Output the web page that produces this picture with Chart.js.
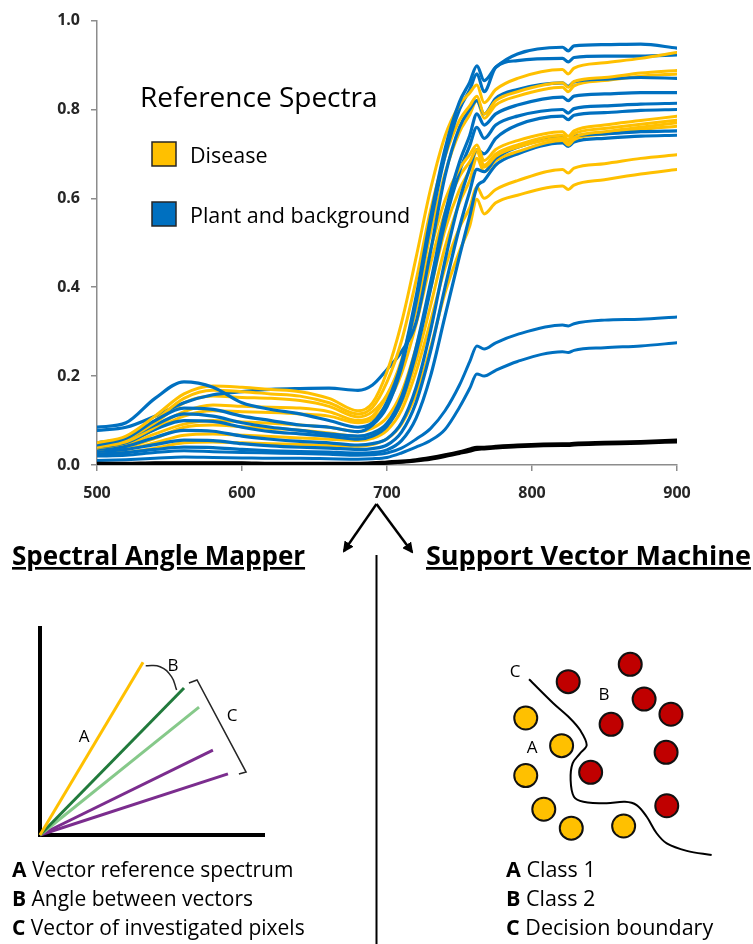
<!DOCTYPE html>
<html>
<head>
<meta charset="utf-8">
<script src="https://cdn.jsdelivr.net/npm/chart.js@4.4.0/dist/chart.umd.min.js"></script>
<style>
  html, body { margin:0; padding:0; background:#fff; }
  #page { position:relative; width:753px; height:944px; overflow:hidden; background:#fff; }
  canvas { position:absolute; }
  #overlay { position:absolute; left:0; top:0; pointer-events:none; }
</style>
</head>
<body>
<div id="page">
  <canvas id="spectra" width="753" height="500" style="left:0;top:0;width:753px;height:500px"></canvas>
  <canvas id="sam" width="380" height="260" style="left:0;top:600px;width:380px;height:260px"></canvas>
  <canvas id="svm" width="373" height="290" style="left:380px;top:600px;width:373px;height:290px"></canvas>
  <svg id="overlay" width="753" height="944" xmlns="http://www.w3.org/2000/svg">
    <defs>
      <marker id="ah" markerWidth="11" markerHeight="11" refX="9" refY="5.5" orient="auto" markerUnits="userSpaceOnUse">
        <path d="M0,0 L11,5.5 L0,11 z" fill="#000"/>
      </marker>
    </defs>
    <!-- legend of the spectra chart -->
    <text x="140" y="107" font-family="Open Sans" font-size="28" fill="#000">Reference Spectra</text>
    <rect x="152" y="142" width="24" height="24" fill="#FFC000" stroke="#262626" stroke-width="1.5"/>
    <text x="190" y="163" font-family="Open Sans" font-size="21.5" fill="#000">Disease</text>
    <rect x="152" y="202" width="24" height="24" fill="#0070C0" stroke="#262626" stroke-width="1.5"/>
    <text x="190" y="223" font-family="Open Sans" font-size="21.5" fill="#000">Plant and background</text>
    <!-- arrows and divider -->
    <line x1="376.5" y1="504" x2="344" y2="551" stroke="#000" stroke-width="2.5" marker-end="url(#ah)"/>
    <line x1="376.5" y1="504" x2="412" y2="552" stroke="#000" stroke-width="2.5" marker-end="url(#ah)"/>
    <line x1="376.5" y1="555" x2="376.5" y2="944" stroke="#000" stroke-width="2"/>
    <!-- section titles -->
    <text x="12" y="565" font-family="Open Sans" font-weight="bold" font-size="26" fill="#000" style="text-decoration:underline">Spectral Angle Mapper</text>
    <text x="426" y="565" font-family="Open Sans" font-weight="bold" font-size="27" fill="#000" style="text-decoration:underline">Support Vector Machine</text>
    <!-- SAM labels -->
    <text x="84" y="735" font-family="Open Sans" font-size="17" fill="#000" text-anchor="middle" dominant-baseline="central">A</text>
    <text x="173" y="664" font-family="Open Sans" font-size="17" fill="#000" text-anchor="middle" dominant-baseline="central">B</text>
    <text x="232" y="714" font-family="Open Sans" font-size="17" fill="#000" text-anchor="middle" dominant-baseline="central">C</text>
    <!-- SVM labels -->
    <text x="515" y="670" font-family="Open Sans" font-size="17" fill="#000" text-anchor="middle" dominant-baseline="central">C</text>
    <text x="604" y="693" font-family="Open Sans" font-size="17" fill="#000" text-anchor="middle" dominant-baseline="central">B</text>
    <text x="532" y="746" font-family="Open Sans" font-size="17" fill="#000" text-anchor="middle" dominant-baseline="central">A</text>
    <!-- keys -->
    <g font-family="Open Sans" font-size="21" fill="#000">
      <text x="12" y="877"><tspan font-weight="bold">A</tspan> Vector reference spectrum</text>
      <text x="12" y="906"><tspan font-weight="bold">B</tspan> Angle between vectors</text>
      <text x="12" y="935"><tspan font-weight="bold">C</tspan> Vector of investigated pixels</text>
    </g>
    <g font-family="Open Sans" font-size="21.5" fill="#000">
      <text x="506" y="877"><tspan font-weight="bold">A</tspan> Class 1</text>
      <text x="506" y="906"><tspan font-weight="bold">B</tspan> Class 2</text>
      <text x="506" y="935"><tspan font-weight="bold">C</tspan> Decision boundary</text>
    </g>
  </svg>
</div>
<script>
// ---------- spectra data (reflectance vs wavelength, nm) ----------
const wavelengths = [500,520,540,560,580,600,620,640,660,680,690,700,710,720,730,740,750,757,762,767,775,790,821,825,829,850,875,900];
const xTicks = [500,600,700,800,900];
const yTicks = [0.0,0.2,0.4,0.6,0.8,1.0];

const disease1 = [0.050,0.065,0.110,0.160,0.178,0.175,0.170,0.165,0.150,0.122,0.140,0.210,0.320,0.466,0.620,0.740,0.810,0.837,0.855,0.815,0.845,0.870,0.890,0.880,0.893,0.905,0.915,0.928];
const disease2 = [0.045,0.060,0.100,0.150,0.168,0.165,0.160,0.155,0.140,0.115,0.130,0.187,0.279,0.415,0.573,0.694,0.776,0.808,0.830,0.790,0.820,0.840,0.860,0.850,0.863,0.872,0.882,0.888];
const disease3 = [0.045,0.058,0.095,0.140,0.155,0.152,0.150,0.145,0.132,0.108,0.120,0.158,0.236,0.364,0.521,0.656,0.749,0.788,0.820,0.780,0.810,0.830,0.850,0.840,0.853,0.865,0.875,0.880];
const disease4 = [0.040,0.052,0.085,0.120,0.135,0.132,0.130,0.128,0.120,0.100,0.110,0.156,0.230,0.348,0.484,0.596,0.667,0.698,0.720,0.685,0.710,0.730,0.750,0.740,0.752,0.765,0.775,0.785];
const disease5 = [0.038,0.050,0.080,0.110,0.122,0.120,0.118,0.115,0.110,0.095,0.103,0.138,0.206,0.316,0.452,0.569,0.649,0.682,0.710,0.675,0.700,0.720,0.742,0.732,0.745,0.757,0.767,0.776];
const disease6 = [0.035,0.045,0.070,0.092,0.100,0.097,0.094,0.090,0.085,0.075,0.083,0.107,0.163,0.264,0.396,0.529,0.620,0.664,0.705,0.670,0.695,0.715,0.735,0.725,0.737,0.750,0.760,0.770];
const disease7 = [0.032,0.040,0.060,0.085,0.090,0.086,0.082,0.078,0.072,0.064,0.070,0.089,0.139,0.233,0.358,0.490,0.590,0.640,0.690,0.660,0.685,0.705,0.730,0.720,0.732,0.745,0.755,0.762];
const disease8 = [0.028,0.035,0.050,0.067,0.070,0.067,0.064,0.061,0.058,0.055,0.060,0.078,0.123,0.209,0.323,0.443,0.534,0.579,0.625,0.600,0.620,0.640,0.665,0.657,0.668,0.678,0.690,0.698];
const disease9 = [0.022,0.028,0.038,0.050,0.052,0.050,0.048,0.046,0.044,0.042,0.046,0.059,0.092,0.159,0.264,0.387,0.481,0.537,0.598,0.565,0.590,0.607,0.628,0.620,0.630,0.642,0.655,0.665];

const plant1 = [0.085,0.095,0.150,0.187,0.175,0.140,0.125,0.115,0.100,0.085,0.095,0.142,0.231,0.378,0.557,0.711,0.817,0.861,0.898,0.865,0.895,0.925,0.940,0.932,0.943,0.946,0.947,0.938];
const plant2 = [0.045,0.060,0.100,0.128,0.125,0.110,0.100,0.090,0.085,0.075,0.090,0.131,0.220,0.365,0.542,0.695,0.800,0.844,0.880,0.840,0.895,0.910,0.915,0.907,0.917,0.920,0.920,0.923];
const plant3 = [0.078,0.085,0.110,0.140,0.158,0.165,0.170,0.172,0.173,0.168,0.180,0.215,0.255,0.320,0.480,0.650,0.760,0.800,0.820,0.790,0.825,0.845,0.860,0.852,0.862,0.868,0.872,0.870];
const plant4 = [0.050,0.060,0.090,0.115,0.110,0.095,0.085,0.078,0.070,0.065,0.072,0.094,0.153,0.263,0.410,0.565,0.682,0.741,0.790,0.765,0.790,0.810,0.828,0.820,0.830,0.835,0.838,0.838];
const plant5 = [0.040,0.050,0.080,0.100,0.098,0.085,0.075,0.070,0.065,0.058,0.065,0.087,0.144,0.252,0.395,0.546,0.660,0.718,0.760,0.735,0.765,0.785,0.800,0.792,0.802,0.808,0.812,0.814];
const plant6 = [0.035,0.042,0.062,0.078,0.076,0.065,0.058,0.053,0.050,0.045,0.048,0.059,0.095,0.174,0.302,0.460,0.596,0.667,0.710,0.700,0.735,0.765,0.785,0.777,0.787,0.793,0.798,0.800];
const plant7 = [0.030,0.035,0.046,0.056,0.055,0.048,0.043,0.040,0.038,0.035,0.037,0.045,0.074,0.140,0.255,0.400,0.535,0.615,0.665,0.660,0.690,0.715,0.738,0.730,0.740,0.745,0.750,0.752];
const plant8 = [0.025,0.028,0.035,0.040,0.039,0.035,0.032,0.030,0.029,0.027,0.028,0.034,0.055,0.105,0.200,0.335,0.470,0.560,0.625,0.640,0.675,0.700,0.725,0.717,0.727,0.735,0.740,0.742];
const plant9 = [0.020,0.022,0.028,0.032,0.030,0.028,0.027,0.026,0.024,0.022,0.023,0.027,0.038,0.058,0.082,0.122,0.180,0.232,0.268,0.261,0.275,0.294,0.315,0.313,0.318,0.326,0.328,0.333];
const plant10 = [0.010,0.012,0.015,0.018,0.017,0.016,0.015,0.015,0.014,0.013,0.014,0.017,0.027,0.040,0.055,0.080,0.130,0.172,0.205,0.200,0.213,0.233,0.255,0.253,0.258,0.264,0.268,0.275];

const background1 = [0.004,0.004,0.005,0.005,0.005,0.005,0.004,0.004,0.004,0.004,0.005,0.007,0.009,0.012,0.017,0.023,0.030,0.036,0.040,0.040,0.042,0.045,0.048,0.048,0.049,0.051,0.053,0.056];
const background2 = [0.002,0.002,0.003,0.003,0.003,0.003,0.002,0.002,0.002,0.002,0.003,0.004,0.006,0.009,0.013,0.019,0.026,0.031,0.035,0.036,0.038,0.041,0.044,0.044,0.045,0.047,0.049,0.052];
const background3 = [0.003,0.003,0.004,0.004,0.004,0.004,0.003,0.003,0.003,0.003,0.004,0.005,0.007,0.010,0.015,0.021,0.028,0.033,0.038,0.038,0.040,0.043,0.046,0.046,0.047,0.049,0.051,0.054];

// ---------- Spectral Angle Mapper sketch (arbitrary units 0..10) ----------
const samVectorX = [4.60, 6.43, 7.10, 7.72, 8.39];
const samVectorY = [8.35, 7.10, 6.18, 4.10, 2.95];
const samArcX = [4.72, 5.36, 5.87, 6.10];
const samArcY = [8.18, 8.13, 7.65, 7.00];
const samBracketX = [6.65, 7.01, 9.20, 8.88];
const samBracketY = [7.34, 7.49, 3.04, 2.95];

// ---------- Support Vector Machine sketch (arbitrary units 0..10) ----------
const class1X = [1.17, 2.80, 1.17, 1.99, 3.24, 5.62];
const class1Y = [6.91, 5.65, 4.29, 2.76, 1.90, 2.00];
const class2X = [3.10, 5.92, 6.55, 7.77, 5.05, 7.55, 4.12, 7.58];
const class2Y = [8.56, 9.35, 7.77, 7.08, 6.62, 5.35, 4.44, 2.92];
const boundaryX = [1.32, 2.42, 3.18, 3.64, 3.94, 3.64, 3.30, 3.21, 3.36, 3.79, 4.85, 5.68, 6.21, 6.67, 7.12, 7.58, 8.49, 9.62];
const boundaryY = [8.67, 7.58, 6.90, 6.36, 5.68, 5.30, 4.85, 4.09, 3.33, 3.10, 3.03, 3.10, 2.95, 2.42, 1.67, 1.21, 0.87, 0.68];

// ---------- build ----------
const YELLOW = '#FFC000', BLUE = '#0070C0', BLACK = '#000000';
const toXY = (vals) => vals.map((v, i) => ({x: wavelengths[i], y: v}));
const zipXY = (xs, ys) => xs.map((x, i) => ({x: x, y: ys[i]}));

const lineSet = (vals, color, width) => ({
  data: toXY(vals), borderColor: color, backgroundColor: color, borderWidth: width,
  pointRadius: 0, cubicInterpolationMode: 'monotone', borderJoinStyle: 'round', borderCapStyle: 'round', fill: false
});

// first dataset is drawn on top
const spectraSets = [
  lineSet(background1, BLACK, 3), lineSet(background2, BLACK, 3), lineSet(background3, BLACK, 3),
  lineSet(plant10, BLUE, 3), lineSet(plant9, BLUE, 3),
  lineSet(plant1, BLUE, 3.2), lineSet(disease1, YELLOW, 3),
  lineSet(plant2, BLUE, 3.2), lineSet(disease2, YELLOW, 3),
  lineSet(plant3, BLUE, 3.2), lineSet(disease3, YELLOW, 3),
  lineSet(plant4, BLUE, 3.2), lineSet(disease4, YELLOW, 3),
  lineSet(plant5, BLUE, 3.2), lineSet(disease5, YELLOW, 3),
  lineSet(plant6, BLUE, 3.2), lineSet(disease6, YELLOW, 3),
  lineSet(plant7, BLUE, 3.2), lineSet(disease7, YELLOW, 3),
  lineSet(plant8, BLUE, 3.2), lineSet(disease8, YELLOW, 3),
  lineSet(disease9, YELLOW, 3)
];

const tickFont = {family: 'Open Sans', size: 16, weight: 'bold'};
const axisGrey = '#8c8c8c';

new Chart(document.getElementById('spectra'), {
  type: 'line',
  data: { datasets: spectraSets },
  options: {
    responsive: false, animation: false, events: [],
    layout: { padding: { left: 0, right: 76, top: 17, bottom: 0 } },
    plugins: { legend: { display: false }, tooltip: { enabled: false } },
    scales: {
      x: {
        type: 'linear', min: xTicks[0], max: xTicks[xTicks.length - 1],
        afterBuildTicks: (s) => { s.ticks = xTicks.map(v => ({value: v})); },
        ticks: { font: tickFont, color: '#262626', padding: 13, maxRotation: 0, autoSkip: false },
        grid: { display: true, drawOnChartArea: false, drawTicks: true, tickLength: 6, color: axisGrey, lineWidth: 1.5 },
        border: { display: true, color: axisGrey, width: 1.5 },
        afterFit: (s) => { s.height = 35; }
      },
      y: {
        type: 'linear', min: yTicks[0], max: yTicks[yTicks.length - 1],
        afterBuildTicks: (s) => { s.ticks = yTicks.map(v => ({value: v})); },
        ticks: { font: tickFont, color: '#262626', padding: 11, callback: (v) => Number(v).toFixed(1) },
        grid: { display: true, drawOnChartArea: false, drawTicks: true, tickLength: 6, color: axisGrey, lineWidth: 1.5 },
        border: { display: true, color: axisGrey, width: 1.5 },
        afterFit: (s) => { s.width = 97; }
      }
    }
  }
});

// SAM sketch
const samColors = ['#FFC000', '#217A3C', '#86C98A', '#7B2D8E', '#7B2D8E'];
const samSets = samVectorX.map((x, i) => ({
  data: [{x: 0, y: 0}, {x: x, y: samVectorY[i]}], showLine: true, borderColor: samColors[i],
  borderWidth: 3, pointRadius: 0, clip: false
}));
samSets.push({ data: zipXY(samArcX, samArcY), showLine: true, borderColor: '#262626', borderWidth: 1.5, pointRadius: 0, tension: 0.45, clip: false });
samSets.push({ data: zipXY(samBracketX, samBracketY), showLine: true, borderColor: '#262626', borderWidth: 1.5, pointRadius: 0, tension: 0, clip: false });

const hiddenAxis = (isX) => ({
  type: 'linear', min: 0, max: 10, display: true,
  ticks: { display: false }, grid: { display: false, drawTicks: false },
  border: { display: true, color: '#000', width: 4 },
  afterFit: (s) => { if (isX) s.height = 0; else s.width = 0; }
});

new Chart(document.getElementById('sam'), {
  type: 'scatter',
  data: { datasets: samSets },
  options: {
    responsive: false, animation: false, events: [],
    layout: { padding: { left: 40, right: 116, top: 28, bottom: 25 } },
    plugins: { legend: { display: false }, tooltip: { enabled: false } },
    scales: { x: hiddenAxis(true), y: hiddenAxis(false) }
  }
});

// SVM sketch
new Chart(document.getElementById('svm'), {
  type: 'scatter',
  data: { datasets: [
    { data: zipXY(class1X, class1Y), pointRadius: 11.5, borderWidth: 2, borderColor: '#111', backgroundColor: YELLOW, clip: false },
    { data: zipXY(class2X, class2Y), pointRadius: 11.5, borderWidth: 2, borderColor: '#111', backgroundColor: '#C00000', clip: false },
    { data: zipXY(boundaryX, boundaryY), showLine: true, borderColor: '#000', borderWidth: 2, pointRadius: 0, tension: 0.35, clip: false }
  ] },
  options: {
    responsive: false, animation: false, events: [],
    layout: { padding: { left: 120, right: 33, top: 50, bottom: 20 } },
    plugins: { legend: { display: false }, tooltip: { enabled: false } },
    scales: {
      x: { type: 'linear', min: 0, max: 10, display: false },
      y: { type: 'linear', min: 0, max: 10, display: false }
    }
  }
});
</script>
</body>
</html>
